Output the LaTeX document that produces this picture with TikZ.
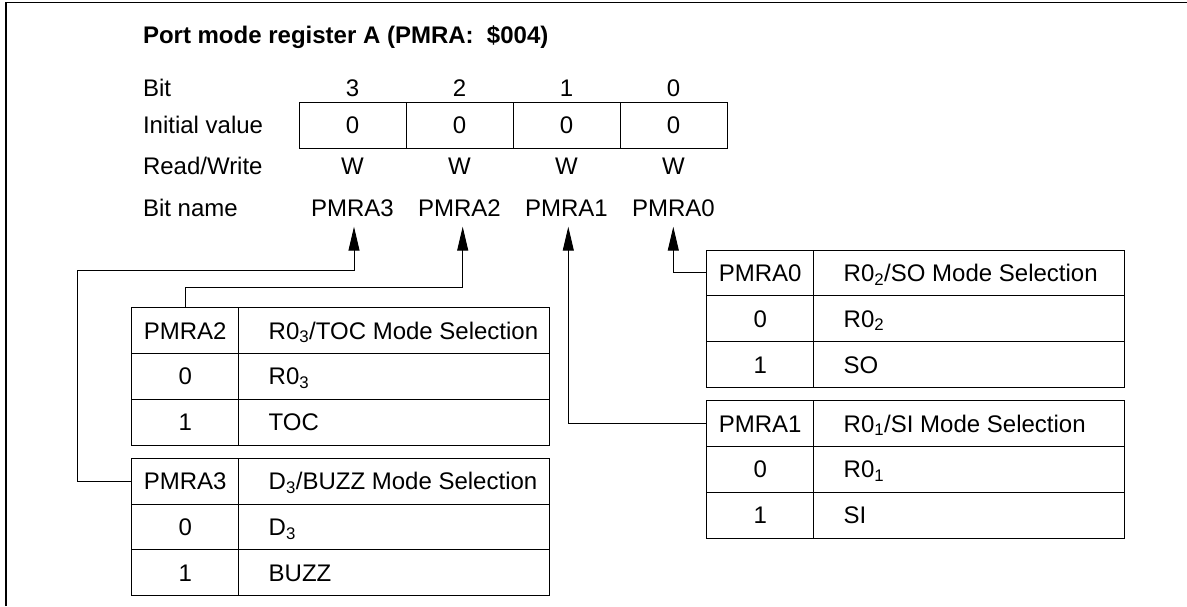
\documentclass[tikz,border=0pt]{standalone}
\usepackage{fontspec}
\setmainfont{Liberation Sans}
\usetikzlibrary{arrows.meta}
\tikzset{
  every node/.style={font=\fontsize{24}{29}\selectfont, inner sep=0pt, outer sep=0pt},
  lbl/.style={text height=17pt, text depth=0pt},
  cellA/.style={draw, line width=1pt, minimum width=107pt, minimum height=45.8pt, text height=17pt, text depth=0pt},
  cellB/.style={draw, line width=1pt, minimum width=311pt, minimum height=45.8pt},
  link/.style={line width=1pt, -{Triangle[length=24pt,width=11pt]}},
  frame/.style={line width=1.5pt},
}
\newcommand\modetab[7]{%
  \node[cellA, anchor=north west] (#1h) at (#2,#3) {#4};
  \node[cellB, anchor=north west] (#1hb) at (#1h.north east) {};
  \node[lbl, anchor=west] (#1ht) at ([xshift=30pt]#1hb.west) {#5};
  \node[cellA, anchor=north] (#1z) at (#1h.south) {0};
  \node[cellB, anchor=north west] (#1zb) at (#1z.north east) {};
  \node[lbl, anchor=west] (#1zt) at ([xshift=30pt]#1zb.west) {#6};
  \node[cellA, anchor=north] (#1o) at (#1z.south) {1};
  \node[cellB, anchor=north west] (#1ob) at (#1o.north east) {};
  \node[lbl, anchor=west] (#1ot) at ([xshift=30pt]#1ob.west) {#7};
}
\begin{document}
\begin{tikzpicture}[x=1pt, y=-1pt]
\useasboundingbox (0,0) rectangle (1187,606);
\draw[frame] (6,606) -- (6,2.5) -- (1187,2.5);

\node[lbl, anchor=west, font=\bfseries\fontsize{24}{29}\selectfont] (title) at (143,35) {Port mode register A (PMRA:\ \ \$004)};

\node[lbl, anchor=west] (lbit) at (143,88) {Bit};
\node[lbl, anchor=west] (linit) at (143,125) {Initial value};
\node[lbl, anchor=west] (lrw) at (143,166) {Read/Write};
\node[lbl, anchor=west] (lname) at (143,208) {Bit name};

\node[cellA, anchor=north west] (c3) at (299,102.3) {0};
\node[cellA, anchor=north west] (c2) at (c3.north east) {0};
\node[cellA, anchor=north west] (c1) at (c2.north east) {0};
\node[cellA, anchor=north west] (c0) at (c1.north east) {0};

\node[lbl] (b3) at (352.5,88) {3};
\node[lbl] (b2) at (459.5,88) {2};
\node[lbl] (b1) at (566.5,88) {1};
\node[lbl] (b0) at (673.5,88) {0};

\node[lbl] (w3) at (352.5,166) {W};
\node[lbl] (w2) at (459.5,166) {W};
\node[lbl] (w1) at (566.5,166) {W};
\node[lbl] (w0) at (673.5,166) {W};

\node[lbl] (n3) at (352.5,208) {PMRA3};
\node[lbl] (n2) at (459.5,208) {PMRA2};
\node[lbl] (n1) at (566.5,208) {PMRA1};
\node[lbl] (n0) at (673.5,208) {PMRA0};

\coordinate (p3) at (354,226.7);
\coordinate (p2) at (462.7,226.7);
\coordinate (p1) at (568.3,226.7);
\coordinate (p0) at (673.3,226.7);

\modetab{tb}{131.7}{307.7}{PMRA2}{R0\textsubscript{3}/TOC Mode Selection}{R0\textsubscript{3}}{TOC}
\modetab{tc}{131.7}{458.3}{PMRA3}{D\textsubscript{3}/BUZZ Mode Selection}{D\textsubscript{3}}{BUZZ}
\modetab{ta}{706.7}{250}{PMRA0}{R0\textsubscript{2}/SO Mode Selection}{R0\textsubscript{2}}{SO}
\modetab{td}{706.7}{400.7}{PMRA1}{R0\textsubscript{1}/SI Mode Selection}{R0\textsubscript{1}}{SI}

\draw[link] (tch.west) -| (77.3,270.7) -| (p3);
\draw[link] (tbh.north) |- (462.7,287.7) -- (p2);
\draw[link] (tdh.west) -| (p1);
\draw[link] (tah.west) -| (p0);
\end{tikzpicture}
\end{document}
